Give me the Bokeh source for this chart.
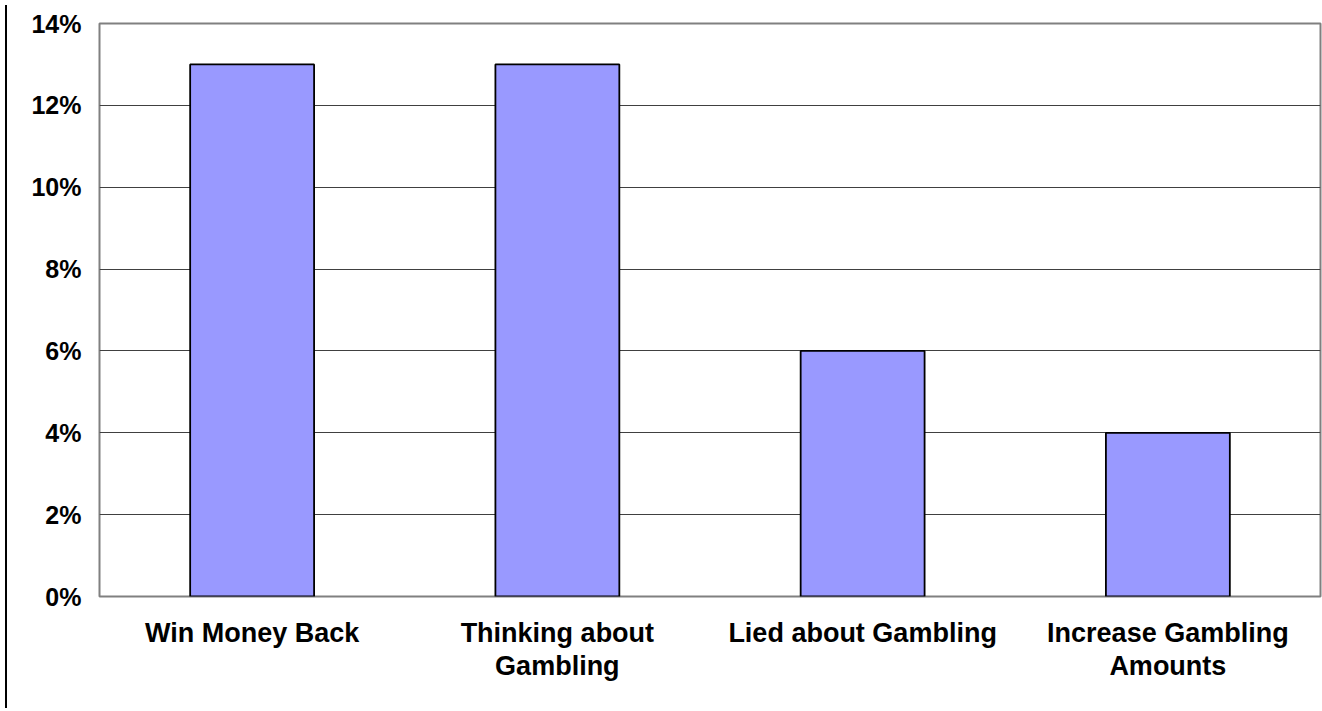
from bokeh.plotting import figure
from bokeh.models import ColumnDataSource, FactorRange, Range1d, NumeralTickFormatter, SingleIntervalTicker, Div
from bokeh.layouts import row
from bokeh.embed import file_html
from bokeh.resources import INLINE

categories = ["Win Money Back", "Thinking about\nGambling", "Lied about Gambling", "Increase Gambling\nAmounts"]
values = [0.13, 0.13, 0.06, 0.04]

src = ColumnDataSource(data=dict(cat=categories, val=values))

p = figure(x_range=FactorRange(*categories), y_range=Range1d(0, 0.14),
           frame_width=1221, frame_height=573, output_backend="svg", toolbar_location=None,
           min_border_left=87, min_border_right=2, min_border_top=23, min_border_bottom=105,
           background_fill_color="white", border_fill_color="white")

p.vbar(x="cat", top="val", width=0.406, source=src,
       fill_color="#9999FF", line_color="black", line_width=1.8)

p.outline_line_color="#808080"
p.outline_line_width=2

p.xgrid.grid_line_color=None
p.ygrid.grid_line_color="#404040"
p.ygrid.grid_line_width=1
p.yaxis.ticker = SingleIntervalTicker(interval=0.02)
p.yaxis.formatter = NumeralTickFormatter(format="0%")

for ax in (p.xaxis[0], p.yaxis[0]):
    ax.axis_line_color=None
    ax.major_tick_line_color=None
    ax.minor_tick_line_color=None
    ax.major_label_text_font="Liberation Sans"
    ax.major_label_text_font_style="bold"
    ax.major_label_text_color="black"

p.yaxis.major_label_text_font_size="25px"
p.yaxis.major_label_standoff=12
p.xaxis.major_label_text_font_size="27px"
p.xaxis.major_label_standoff=15
p.xaxis.major_label_text_line_height=1.1
p.xaxis.major_label_orientation="horizontal"

bar = Div(text="", width=2, height=703, styles={"background-color": "black"})
layout = row(bar, p, spacing=0)

open("out.html","w").write(file_html(layout, INLINE))
